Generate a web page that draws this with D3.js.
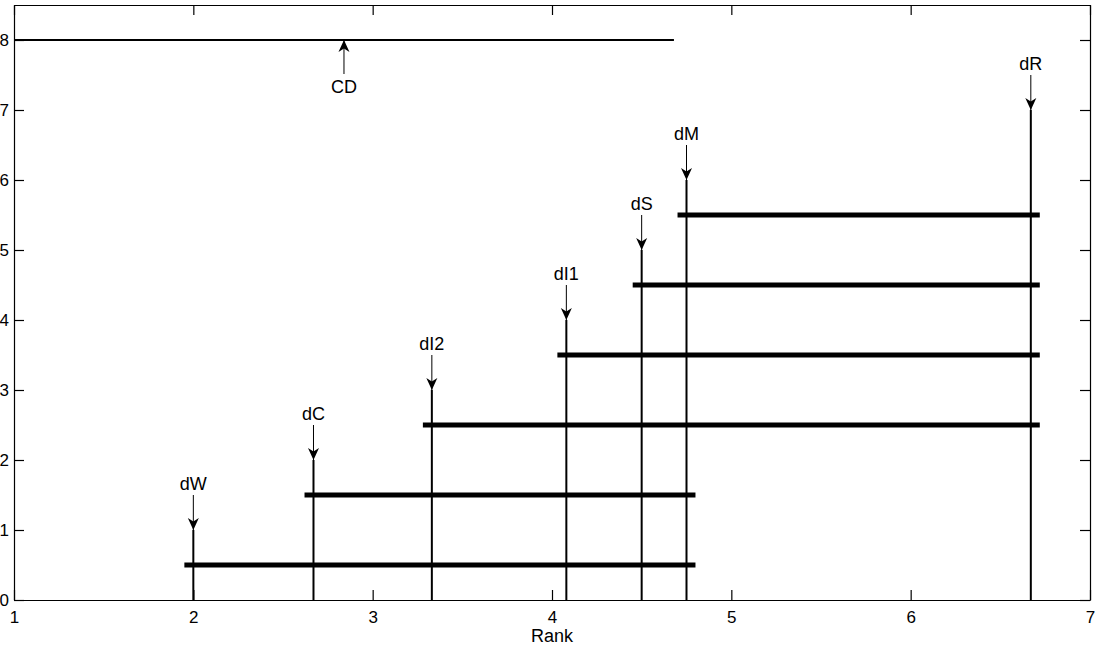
<!DOCTYPE html>
<html>
<head>
<meta charset="utf-8">
<script src="https://cdn.jsdelivr.net/npm/d3@7"></script>
<style>
  body { margin: 0; background: #fff; }
  svg { display: block; font-family: "Liberation Sans", Arial, sans-serif; }
  .axis path, .axis line { stroke: #000; stroke-width: 1.2; }
  .axis text { font-size: 17px; fill: #000; }
</style>
</head>
<body>
<script>
// average ranks of the methods (critical difference diagram)
var methods = ["dW", "dC", "dI2", "dI1", "dS", "dM", "dR"];
var ranks = [2.0, 2.67, 3.33, 4.08, 4.5, 4.75, 6.67];
var heights = [1, 2, 3, 4, 5, 6, 7];

// groups that are not significantly different: first and last method index
var cliqueFrom = [0, 1, 2, 3, 4, 5];
var cliqueTo = [5, 5, 6, 6, 6, 6];
var cliqueLevel = [0.5, 1.5, 2.5, 3.5, 4.5, 5.5];

// critical difference
var cdStart = 1;
var cdValue = 3.68;
var cdLevel = 8;

var xTicks = [1, 2, 3, 4, 5, 6, 7];
var yTicks = [0, 1, 2, 3, 4, 5, 6, 7, 8];

var margin = {top: 5, right: 10, bottom: 51, left: 14},
	width = 1100 - margin.left - margin.right,
	height = 651 - margin.top - margin.bottom;

var x = d3.scaleLinear().domain([1, 7]).range([0, width]);
var y = d3.scaleLinear().domain([0, 8.5]).range([height, 0]);

var svg = d3.select("body").append("svg")
	.attr("width", 1100)
	.attr("height", 651)
	.append("g")
	.attr("transform", "translate(" + margin.left + "," + margin.top + ")");

// arrow head with a notch, like matlab annotations
svg.append("defs").append("marker")
	.attr("id", "head")
	.attr("viewBox", "0 -6 12 12")
	.attr("refX", 12)
	.attr("refY", 0)
	.attr("markerUnits", "userSpaceOnUse")
	.attr("markerWidth", 12)
	.attr("markerHeight", 12)
	.attr("orient", "auto")
	.append("path")
	.attr("d", "M0,-5.5L12,0L0,5.5L3.5,0Z")
	.attr("fill", "#000");

// axes, ticks pointing inward on all four sides
svg.append("g")
	.attr("class", "axis")
	.attr("transform", "translate(0," + height + ")")
	.call(d3.axisBottom(x).tickValues(xTicks).tickSizeInner(-10).tickSizeOuter(0).tickPadding(11).tickFormat(d3.format("d")));

svg.append("g")
	.attr("class", "axis")
	.call(d3.axisTop(x).tickValues(xTicks).tickSizeInner(-10).tickSizeOuter(0).tickFormat(""));

svg.append("g")
	.attr("class", "axis")
	.call(d3.axisLeft(y).tickValues(yTicks).tickSizeInner(-10).tickSizeOuter(0).tickPadding(5).tickFormat(d3.format("d")));

svg.append("g")
	.attr("class", "axis")
	.attr("transform", "translate(" + width + ",0)")
	.call(d3.axisRight(y).tickValues(yTicks).tickSizeInner(-10).tickSizeOuter(0).tickFormat(""));

// x-axis label
svg.append("text")
	.attr("x", width / 2)
	.attr("y", height + 42)
	.attr("text-anchor", "middle")
	.attr("font-size", 18)
	.text("Rank");

// cd line with arrow and label
svg.append("line")
	.attr("x1", x(cdStart))
	.attr("x2", x(cdStart + cdValue))
	.attr("y1", y(cdLevel))
	.attr("y2", y(cdLevel))
	.attr("stroke", "#000")
	.attr("stroke-width", 2);

var cdMid = cdStart + cdValue / 2;
svg.append("line")
	.attr("x1", x(cdMid))
	.attr("x2", x(cdMid))
	.attr("y1", y(cdLevel) + 34)
	.attr("y2", y(cdLevel))
	.attr("stroke", "#000")
	.attr("stroke-width", 1)
	.attr("marker-end", "url(#head)");

svg.append("text")
	.attr("x", x(cdMid))
	.attr("y", y(cdLevel) + 53)
	.attr("text-anchor", "middle")
	.attr("font-size", 18)
	.text("CD");

// vertical line for every method
methods.forEach(function(m, i) {
	svg.append("line")
		.attr("x1", x(ranks[i]))
		.attr("x2", x(ranks[i]))
		.attr("y1", y(0))
		.attr("y2", y(heights[i]))
		.attr("stroke", "#000")
		.attr("stroke-width", 2);

	svg.append("line")
		.attr("x1", x(ranks[i]))
		.attr("x2", x(ranks[i]))
		.attr("y1", y(heights[i]) - 35)
		.attr("y2", y(heights[i]))
		.attr("stroke", "#000")
		.attr("stroke-width", 1)
		.attr("marker-end", "url(#head)");

	svg.append("text")
		.attr("x", x(ranks[i]))
		.attr("y", y(heights[i]) - 40)
		.attr("text-anchor", "middle")
		.attr("font-size", 18)
		.text(m);
});

// thick bars joining the methods in each clique
var pad = 0.05;
cliqueLevel.forEach(function(lv, i) {
	svg.append("line")
		.attr("x1", x(ranks[cliqueFrom[i]] - pad))
		.attr("x2", x(ranks[cliqueTo[i]] + pad))
		.attr("y1", y(lv))
		.attr("y2", y(lv))
		.attr("stroke", "#000")
		.attr("stroke-width", 5);
});
</script>
</body>
</html>
